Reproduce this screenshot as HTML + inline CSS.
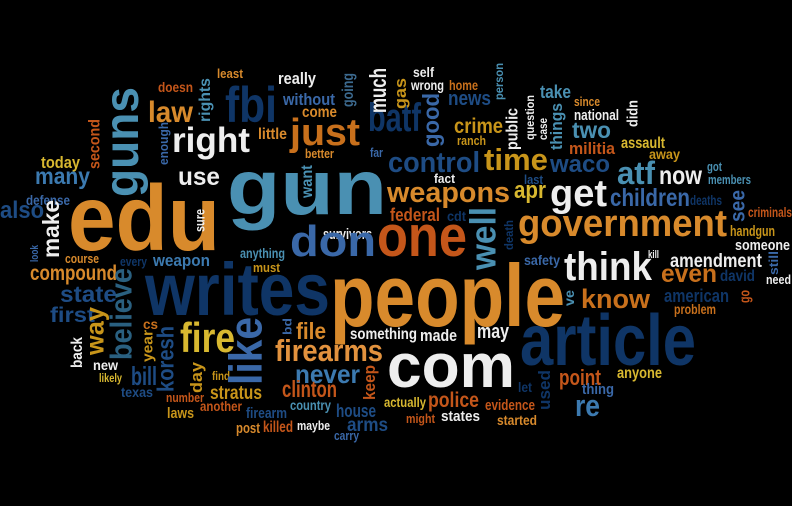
<!DOCTYPE html>
<html><head><meta charset="utf-8"><style>
html,body{margin:0;padding:0;background:#000;}
svg{display:block;}
text{font-family:"Liberation Sans",sans-serif;font-weight:bold;}
</style></head>
<body>
<svg id="cloud" width="792" height="506" viewBox="0 0 792 506" xmlns="http://www.w3.org/2000/svg">
<rect width="792" height="506" fill="#000"/>
</svg>
<script>
const palette = {O:"#d88a2c",O2:"#e2923e",R:"#c4561a",R2:"#c8701c",L:"#4a90b2",L2:"#3c6a8f",D:"#0f3566",D2:"#1e4c84",M:"#3a68a8",M2:"#3c7ab0",M3:"#2a6080",W:"#eeeeee",Y:"#d8b830",G:"#c8951a"};
// horizontal words: text, x, baseline, font size, width, colour
const hWords = [
["least",217,78,13,26,"O"],["doesn",158,92,14,35,"R"],["fbi",225,122,50,52,"D"],["really",278,84,17,38,"W"],
["without",283,105,17,52,"M"],["come",302,117,16,35,"O"],["law",148,122,30,45,"O"],["right",172,152,35,78,"W"],
["little",258,139,16,29,"O"],["just",290,145,38,70,"R2"],["better",305,158,13,29,"O"],["far",370,157,13,13,"M"],
["batf",368,131,40,53,"D"],["today",41,168,17,39,"Y"],["many",35,184,23,55,"M2"],["use",178,185,25,42,"W"],
["gun",227,214,78,160,"L"],["defense",26,205,14,44,"M"],["also",0,218,24,44,"D2"],["edu",68,250,93,152,"O"],
["survivors",323,239,15,49,"W"],["don",290,256,44,86,"M"],["one",377,256,58,90,"R"],["self",413,77,14,21,"W"],
["wrong",411,90,14,33,"W"],["home",449,90,14,29,"R2"],["news",448,105,20,43,"D2"],["crime",454,133,21,49,"G"],
["ranch",457,145,13,29,"G"],["take",540,98,18,31,"L"],["since",574,106,13,26,"O"],["national",574,120,15,45,"W"],
["two",572,138,23,39,"L"],["militia",569,154,17,46,"R"],["assault",621,148,16,44,"Y"],["away",649,159,14,31,"G"],
["control",388,172,29,92,"D2"],["time",484,170,31,64,"G"],["waco",550,172,24,60,"D2"],["fact",434,183,13,21,"W"],
["last",524,184,13,19,"D2"],["atf",617,184,32,38,"L"],["now",659,184,26,43,"W"],["got",707,171,13,15,"L"],
["members",708,184,13,43,"L"],["weapons",387,202,29,123,"O"],["apr",514,198,24,32,"Y"],["get",550,206,38,57,"W"],
["children",610,206,25,80,"M"],["deaths",690,205,14,32,"D"],["criminals",748,217,14,44,"R"],["federal",390,221,18,50,"R"],
["cdt",447,221,14,19,"D"],["government",518,236,38,209,"O"],["handgun",730,236,15,45,"G"],["someone",735,250,15,55,"W"],
["kill",648,258,11,11,"W"],["course",65,263,13,34,"O"],["every",120,266,13,27,"D"],["weapon",153,266,17,57,"M2"],
["anything",240,258,14,45,"L"],["must",253,272,13,27,"G"],["compound",30,280,21,87,"O"],["writes",145,315,74,185,"D"],
["people",330,326,88,235,"O"],["state",60,302,23,57,"D2"],["first",50,322,21,45,"D2"],["cs",143,329,14,15,"R2"],
["fire",180,352,42,55,"Y"],["file",296,339,23,30,"O"],["something",350,339,16,67,"W"],["firearms",275,361,31,108,"O2"],
["new",93,370,14,25,"W"],["likely",99,382,12,23,"Y"],["bill",131,385,26,26,"D2"],["never",295,383,26,65,"M2"],
["find",212,380,12,18,"G"],["texas",121,397,14,32,"D2"],["stratus",210,399,19,52,"G"],["clinton",282,397,23,55,"R"],
["number",166,402,13,38,"R"],["another",200,411,14,42,"R"],["country",290,410,14,41,"L"],["laws",167,418,15,27,"G"],
["firearm",246,418,15,41,"D2"],["house",336,417,18,40,"D2"],["arms",347,431,19,41,"D2"],["post",236,433,15,24,"O"],
["killed",263,432,16,30,"R"],["maybe",297,430,13,33,"W"],["carry",334,440,13,25,"M"],["safety",524,265,14,36,"M"],
["think",564,280,40,88,"W"],["amendment",670,267,19,92,"W"],["even",661,282,25,56,"R2"],["david",720,281,16,35,"D"],
["need",766,284,13,25,"W"],["know",581,308,27,69,"R2"],["american",664,302,18,65,"D"],["problem",674,314,14,42,"R2"],
["made",420,341,17,37,"W"],["may",477,338,20,32,"W"],["article",520,365,72,176,"D"],["com",387,387,62,128,"W"],
["anyone",617,378,16,45,"Y"],["point",559,385,22,42,"R"],["let",518,392,14,14,"D"],["thing",582,394,15,32,"M"],
["actually",384,407,14,42,"Y"],["police",428,407,21,51,"R"],["evidence",485,410,15,50,"R"],["re",575,416,31,25,"M2"],
["might",406,423,13,29,"R"],["states",441,421,15,39,"W"],["started",497,425,14,40,"O"]
];
// vertical words: text, left, top, thickness, length, font size, colour
const vWords = [
["rights",200,78,13,44,16,"L"],["going",343,73,13,34,16,"L2"],["much",372,68,18,45,23,"W"],["gas",395,78,14,31,17,"G"],
["guns",107,87,40,110,48,"L"],["second",90,119,12,50,16,"R"],["enough",160,122,10,43,13,"M"],["want",302,165,13,33,16,"L"],
["make",45,200,18,58,23,"W"],["sure",195,209,12,23,14,"W"],["person",495,63,10,37,12,"L"],["good",425,93,18,54,23,"M"],
["public",508,108,12,42,17,"W"],["question",526,95,10,45,12,"W"],["case",540,118,9,22,12,"W"],["things",552,103,13,47,17,"L"],
["didn",628,100,12,27,15,"W"],["see",732,190,16,32,21,"M"],["well",472,207,30,63,36,"L"],["death",505,220,10,30,12,"D"],
["look",31,245,9,17,11,"M"],["believe",112,268,25,92,31,"M3"],["way",88,307,20,48,26,"G"],["year",143,330,12,32,15,"G"],
["back",72,337,13,31,16,"W"],["koresh",160,326,17,66,23,"D2"],["like",231,317,39,68,46,"M"],["bd",283,318,11,17,12,"M"],
["day",192,362,13,31,17,"G"],["keep",365,365,13,35,17,"R"],["still",770,251,10,24,13,"M"],["ve",567,290,9,16,14,"L"],
["go",740,290,12,13,15,"R"],["used",540,370,13,40,17,"D"]
];
const NS = "http://www.w3.org/2000/svg";
const svg = document.getElementById("cloud");
hWords.forEach(w => {
  const t = document.createElementNS(NS, "text");
  t.setAttribute("x", w[1]);
  t.setAttribute("y", w[2]);
  t.setAttribute("font-size", w[3]);
  t.setAttribute("textLength", w[4]);
  t.setAttribute("lengthAdjust", "spacingAndGlyphs");
  t.setAttribute("fill", palette[w[5]]);
  t.textContent = w[0];
  
  
  svg.appendChild(t);
});
vWords.forEach(w => {
  const t = document.createElementNS(NS, "text");
  const bx = w[1] + w[3] * 0.78;
  const by = w[2] + w[4];
  t.setAttribute("transform", "translate(" + bx + "," + by + ") rotate(-90)");
  t.setAttribute("x", 0);
  t.setAttribute("y", 0);
  t.setAttribute("font-size", w[5]);
  t.setAttribute("textLength", w[4]);
  t.setAttribute("lengthAdjust", "spacingAndGlyphs");
  t.setAttribute("fill", palette[w[6]]);
  t.textContent = w[0];
  
  
  svg.appendChild(t);
});
</script>
</body></html>
